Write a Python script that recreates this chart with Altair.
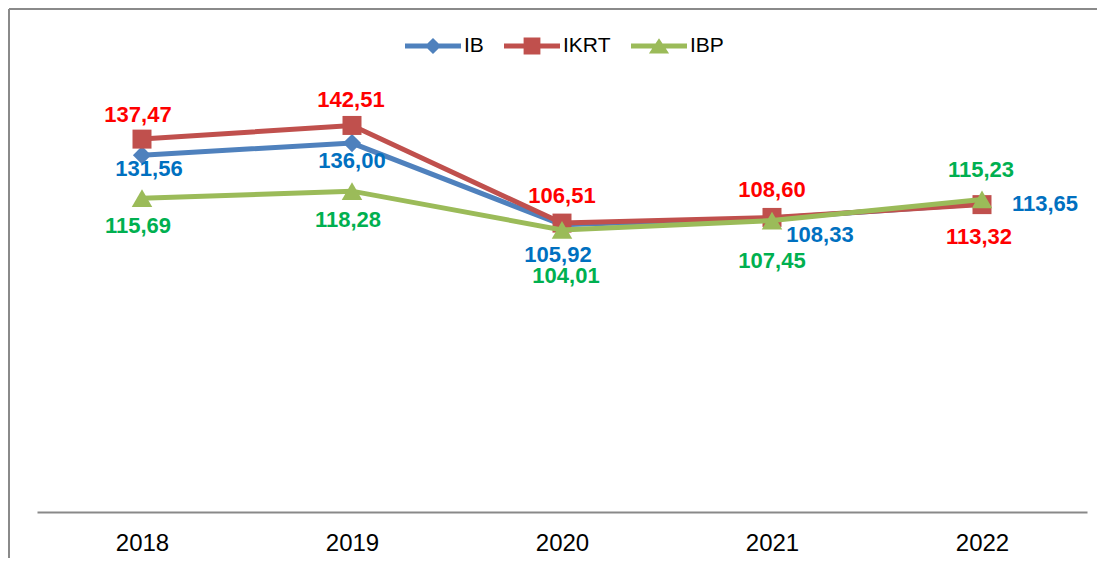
import altair as alt
import pandas as pd

years = ["2018", "2019", "2020", "2021", "2022"]
series = ["IB", "IKRT", "IBP"]
ib = [131.56, 136.00, 105.92, 108.33, 113.65]
ikrt = [137.47, 142.51, 106.51, 108.60, 113.32]
ibp = [115.69, 118.28, 104.01, 107.45, 115.23]
values = {"IB": ib, "IKRT": ikrt, "IBP": ibp}

# styling / layout (not data)
line_colors = ["#4F81BD", "#C0504D", "#9BBB59"]
label_colors = ["#0070C0", "#FF0000", "#00B050"]
marker_shapes = ["diamond", "square", "triangle-up"]
marker_sizes = [330, 361, 420]
label_dx = {"IB": [7, 0, -4, 48, 63], "IKRT": [-4, -1, 0, 0, -3], "IBP": [-4, -4, 4, 0, -1]}
label_dy = {"IB": [14, 18, 30, 17, 0], "IKRT": [-24, -25, -27, -27, 32], "IBP": [28, 29, 46, 40, -29]}
legend_paths = [
    "M-1,-0.09L1,-0.09L1,0.09L-1,0.09Z M0,-0.29L0.29,0L0,0.29L-0.29,0Z",
    "M-1,-0.09L1,-0.09L1,0.09L-1,0.09Z M-0.3,-0.3L0.3,-0.3L0.3,0.3L-0.3,0.3Z",
    "M-1,-0.09L1,-0.09L1,0.09L-1,0.09Z M0,-0.28L0.36,0.27L-0.36,0.27Z",
]

Y_MAX = 160
PLOT_H = 434
PX_PER_UNIT = PLOT_H / Y_MAX

rows = []
for s in series:
    for j, y in enumerate(years):
        rows.append({"year": y, "series": s, "v": values[s][j],
                     "dx": label_dx[s][j], "dy": label_dy[s][j]})
df = pd.DataFrame(rows)

FONT = "Liberation Sans"

X = alt.X("year:N", sort=years, scale=alt.Scale(type="point", padding=0.5),
          axis=alt.Axis(title=None, ticks=False, grid=False, labelAngle=0,
                        domainColor="#898989", domainWidth=2,
                        labelFont=FONT, labelFontSize=24, labelColor="#000000",
                        labelPadding=19))
YS = alt.Scale(domain=[0, Y_MAX], nice=False, zero=True)
Y = alt.Y("v:Q", scale=YS, axis=None)

layers = []
for i, s in enumerate(series):
    base = alt.Chart(df).transform_filter(alt.datum.series == s)
    layers.append(base.mark_line(color=line_colors[i], strokeWidth=5).encode(x=X, y=Y))
    layers.append(base.mark_point(filled=True, shape=marker_shapes[i], size=marker_sizes[i],
                                  color=line_colors[i], opacity=1, strokeWidth=0).encode(x=X, y=Y))

for i, s in enumerate(series):
    base = alt.Chart(df).transform_filter(alt.datum.series == s).transform_calculate(
        lbl="replace(format(datum.v, '.2f'), '.', ',')",
        ly=f"datum.v - datum.dy / {PX_PER_UNIT}")
    layers.append(base.mark_text(font=FONT, fontSize=22, fontWeight="bold",
                                 color=label_colors[i], align="center", baseline="middle").encode(
        x=X, y=alt.Y("ly:Q", scale=YS, axis=None),
        xOffset=alt.XOffset("dx:Q", scale=None),
        text="lbl:N"))

leg = dict(orient="none", legendX=368, legendY=-60, direction="horizontal", title=None,
           symbolSize=3136, symbolStrokeWidth=0, symbolOpacity=1, labelFont=FONT,
           labelFontSize=21, labelColor="#000000", labelOffset=3, columnPadding=20, padding=0)
legend_layer = alt.Chart(pd.DataFrame({"series": series})).transform_filter("false").mark_point(
    filled=True, opacity=1).encode(
    color=alt.Color("series:N", sort=series, scale=alt.Scale(domain=series, range=line_colors),
                    legend=alt.Legend(**leg)),
    shape=alt.Shape("series:N", sort=series, scale=alt.Scale(domain=series, range=legend_paths),
                    legend=alt.Legend(**leg)))
layers.append(legend_layer)

frame_left = alt.Chart(pd.DataFrame({"a": [0]})).mark_rule(color="#8a8a8a", strokeWidth=2).encode(
    x=alt.value(-28), y=alt.value(-69), y2=alt.value(490))
frame_top = alt.Chart(pd.DataFrame({"a": [0]})).mark_rule(color="#8a8a8a", strokeWidth=2).encode(
    x=alt.value(-28), x2=alt.value(1062), y=alt.value(-69))
layers = [frame_left, frame_top] + layers

chart = alt.layer(*layers).properties(
    width=1050, height=PLOT_H,
    autosize=alt.AutoSizeParams(type="none"),
    padding={"left": 29, "top": 70, "right": 10, "bottom": 46},
).configure_view(stroke=None)

chart.save("out.html", embed_options={"renderer": "svg", "actions": False})
